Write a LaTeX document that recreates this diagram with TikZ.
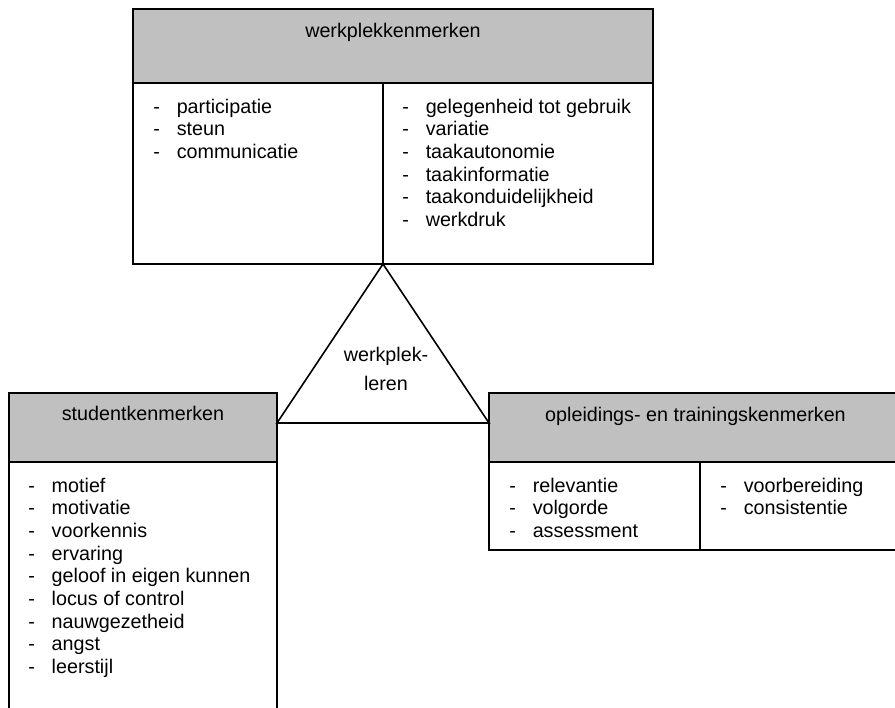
\documentclass[tikz,border=0pt]{standalone}
\usepackage{fontspec}
\setmainfont{Liberation Sans}
\definecolor{hdrgray}{HTML}{C0C0C0}
\newlength\px
\setlength\px{0.75pt}
% one list entry: dash, fixed gap, then the text
\newcommand\dashitem[1]{\makebox[23.5\px][l]{-}#1\\}
\newcommand\itemlist[1]{\begin{tabular}[t]{@{}l@{}}#1\end{tabular}}
\tikzset{
  box/.style={draw, line width=1.2pt, rectangle, anchor=north west, inner sep=0pt, outer sep=0pt},
  hdrbox/.style={box, fill=hdrgray},
  title/.style={anchor=base, inner sep=0pt, font=\fontsize{14.8pt}{17pt}\selectfont},
  list/.style={anchor=base west, inner sep=0pt, font=\fontsize{14.8pt}{17pt}\selectfont},
  rule/.style={line width=1.2pt},
}
\begin{document}
\begin{tikzpicture}[x=0.75pt, y=-0.75pt]
\useasboundingbox (0,0) rectangle (895,707);
\clip (0,0) rectangle (895,707);

% workplace characteristics
\node[hdrbox, minimum width=520\px, minimum height=74\px] (wpH) at (133,9) {};
\node[box, minimum width=520\px, minimum height=181\px] (wpB) at (133,83) {};
\coordinate (wpDiv) at (383,264);
\draw[rule] (wpDiv |- wpB.north) -- (wpDiv);
\node[title] (wpT) at (393,37) {werkplekkenmerken};
\node[list] (wpL) at (153,113) {\itemlist{\dashitem{participatie}\dashitem{steun}\dashitem{communicatie}}};
\node[list] (wpR) at (402,113) {\itemlist{\dashitem{gelegenheid tot gebruik}\dashitem{variatie}\dashitem{taakautonomie}\dashitem{taakinformatie}\dashitem{taakonduidelijkheid}\dashitem{werkdruk}}};

% student characteristics
\node[hdrbox, minimum width=268\px, minimum height=69\px] (stH) at (9,393) {};
\node[box, minimum width=268\px, minimum height=300\px] (stB) at (9,462) {};
\node[title] (stT) at (143,420) {studentkenmerken};
\node[list] (stL) at (28,492) {\itemlist{\dashitem{motief}\dashitem{motivatie}\dashitem{voorkennis}\dashitem{ervaring}\dashitem{geloof in eigen kunnen}\dashitem{locus of control}\dashitem{nauwgezetheid}\dashitem{angst}\dashitem{leerstijl}}};

% education and training characteristics
\node[hdrbox, minimum width=440\px, minimum height=69\px] (otH) at (489,393) {};
\node[box, minimum width=440\px, minimum height=88\px] (otB) at (489,462) {};
\coordinate (otDiv) at (700,550);
\draw[rule] (otDiv |- otB.north) -- (otDiv);
\node[title] (otT) at (695.5,421) {opleidings- en trainingskenmerken};
\node[list] (otL) at (509,492) {\itemlist{\dashitem{relevantie}\dashitem{volgorde}\dashitem{assessment}}};
\node[list] (otR) at (720,492) {\itemlist{\dashitem{voorbereiding}\dashitem{consistentie}}};

% central triangle
\coordinate (triL) at (stH.east |- 0,423);
\coordinate (triR) at (otH.west |- 0,423);
\draw[rule, line join=miter] (wpDiv) -- (triL) -- (triR) -- cycle;
\node[anchor=base, inner sep=0pt] (wl) at (386,361.5)
  {\fontsize{14.8pt}{21.5pt}\selectfont\begin{tabular}[t]{@{}c@{}}werkplek-\\leren\end{tabular}};
\end{tikzpicture}
\end{document}
